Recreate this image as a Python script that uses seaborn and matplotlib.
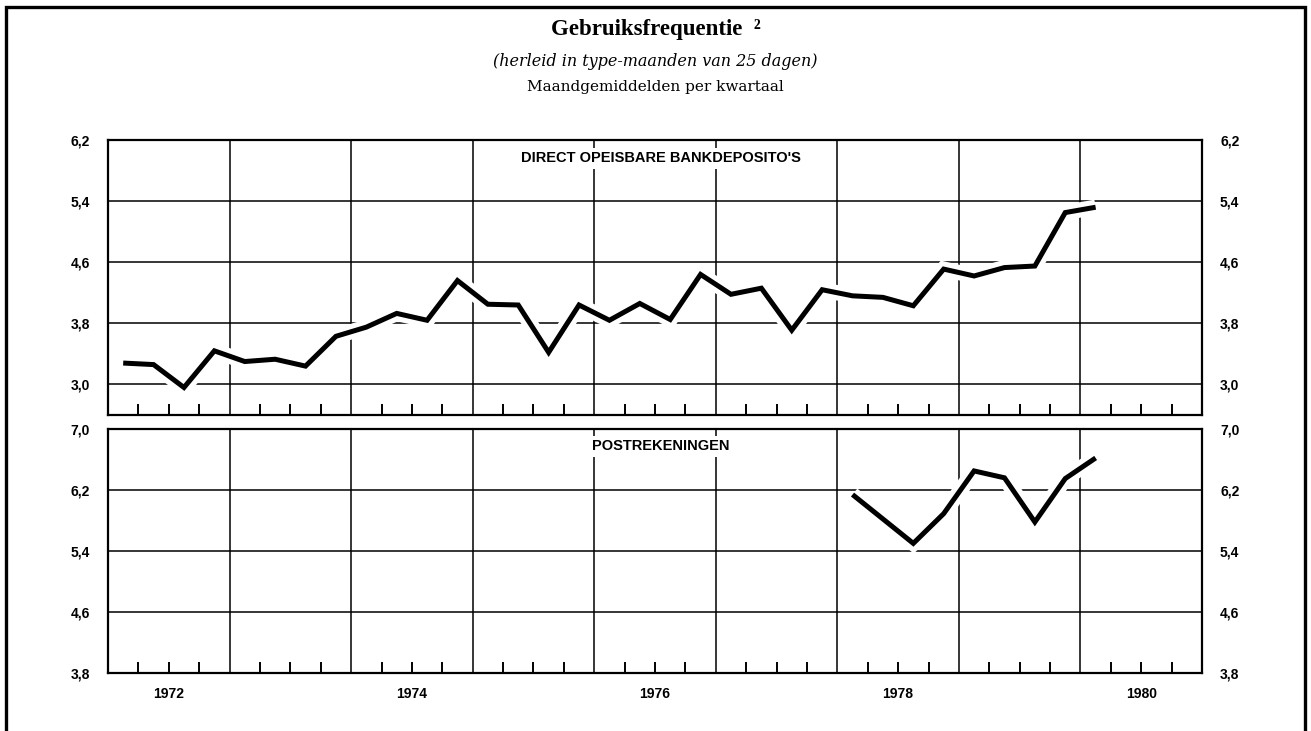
import numpy as np
import pandas as pd
import matplotlib
matplotlib.use("Agg")
import matplotlib.pyplot as plt
import seaborn as sns
from matplotlib.patches import Rectangle
from matplotlib.ticker import FixedLocator, FuncFormatter

# ---------------- data (quarterly averages) ----------------
first_year = 1972
last_year = 1980
bank_start = (1972, 1)
bank_values = [3.28, 3.26, 2.96, 3.44,
               3.30, 3.33, 3.24, 3.63,
               3.75, 3.93, 3.84, 4.36,
               4.05, 4.04, 3.42, 4.04,
               3.84, 4.06, 3.85, 4.44,
               4.18, 4.26, 3.71, 4.24,
               4.16, 4.14, 4.03, 4.51,
               4.42, 4.53, 4.55, 5.25,
               5.32]
post_start = (1978, 1)
post_values = [6.14, 5.82, 5.50, 5.89,
               6.45, 6.36, 5.78, 6.35,
               6.62]
year_labels = ["1972", "1974", "1976", "1978", "1980"]
top_yticks = [3.0, 3.8, 4.6, 5.4, 6.2]
bottom_yticks = [3.8, 4.6, 5.4, 6.2, 7.0]
top_title = "DIRECT OPEISBARE BANKDEPOSITO'S"
bottom_title = "POSTREKENINGEN"
title = "Gebruiksfrequentie  \u00b2"
subtitle = "(herleid in type-maanden van 25 dagen)"
subtitle2 = "Maandgemiddelden per kwartaal"


def quarterly_frame(start, values):
    y0, q0 = start
    xs = []
    for k in range(len(values)):
        idx = (q0 - 1) + k
        xs.append(y0 + idx // 4 + ((idx % 4) + 0.5) / 4.0)
    return pd.DataFrame({"x": xs, "value": values})


bank_df = quarterly_frame(bank_start, bank_values)
post_df = quarterly_frame(post_start, post_values)

# ---------------- style ----------------
sns.set_theme(style="white")
plt.rcParams["font.family"] = ["Liberation Sans", "DejaVu Sans"]
plt.rcParams["axes.edgecolor"] = "black"
plt.rcParams["text.color"] = "black"
plt.rcParams["xtick.color"] = "black"
plt.rcParams["ytick.color"] = "black"

W, H = 1311, 731
fig = plt.figure(figsize=(W / 100, H / 100), dpi=100)
fig.patch.set_facecolor("white")


def fx(px):
    return px / W


def fy(py):
    return 1 - py / H


left_px, right_px = 108, 1202
ax_top = fig.add_axes([fx(left_px), fy(415), fx(right_px - left_px), (415 - 140) / H])
ax_bot = fig.add_axes([fx(left_px), fy(673), fx(right_px - left_px), (673 - 429) / H])

fmt = FuncFormatter(lambda v, p: f"{v:.1f}".replace(".", ","))
quarter_marks = [y + f for y in range(first_year, last_year + 1) for f in (0.25, 0.5, 0.75)]
year_bounds = list(range(first_year + 1, last_year + 1))
label_pos = [int(s) + 0.5 for s in year_labels]

TICK_FS = 10


def style_axis(ax, yticks, ylim, panel_title, show_x, title_y):
    ax.set_facecolor("white")
    ax.set_xlim(first_year, last_year + 1)
    ax.set_ylim(*ylim)
    ax.set_yticks(yticks)
    ax.yaxis.set_major_formatter(fmt)
    ax.grid(axis="y", color="black", linewidth=1.1, zorder=0.5)
    ax.set_axisbelow(True)
    for xb in year_bounds:
        ax.axvline(xb, color="black", linewidth=1.1, zorder=0.6)
    for s in ax.spines.values():
        s.set_visible(True)
        s.set_linewidth(1.6)
        s.set_color("black")
        s.set_zorder(5)
    ax.xaxis.remove_overlapping_locs = False
    ax.xaxis.set_minor_locator(FixedLocator(quarter_marks))
    ax.xaxis.set_major_locator(FixedLocator(label_pos))
    if show_x:
        ax.set_xticklabels(year_labels)
    else:
        ax.set_xticklabels([])
    ax.tick_params(axis="x", which="minor", direction="in", length=8, width=1.4,
                   color="black", bottom=True, top=False)
    ax.tick_params(axis="x", which="major", length=0, pad=10, labelsize=TICK_FS,
                   labelcolor="black")
    ax.tick_params(axis="y", which="both", left=False, right=False, length=0,
                   labelleft=True, labelright=True, pad=13, labelsize=TICK_FS,
                   labelcolor="black")
    for lab in ax.get_xticklabels():
        lab.set_fontweight("bold")
    for t in ax.yaxis.get_major_ticks():
        t.label1.set_fontweight("bold")
        t.label2.set_fontweight("bold")
    ax.set_xlabel("")
    ax.set_ylabel("")
    ax.text(0.505, title_y, panel_title, transform=ax.transAxes,
            ha="center", va="center", fontsize=10.5, fontweight="bold", color="black",
            zorder=4, bbox=dict(facecolor="white", edgecolor="none", pad=2.5))


def draw_series(ax, df):
    sns.lineplot(data=df, x="x", y="value", ax=ax, color="white", linewidth=11,
                 sort=False, legend=False, zorder=2)
    sns.lineplot(data=df, x="x", y="value", ax=ax, color="black", linewidth=3.6,
                 sort=False, legend=False, zorder=3)
    for ln in ax.get_lines()[-2:]:
        ln.set_solid_joinstyle("miter")
        ln.set_solid_capstyle("butt")


draw_series(ax_top, bank_df)
draw_series(ax_bot, post_df)
style_axis(ax_top, top_yticks, (2.6, 6.2), top_title, False, 1 - 18 / 275)
style_axis(ax_bot, bottom_yticks, (3.8, 7.0), bottom_title, True, 1 - 17 / 244)

# ---------------- titles ----------------
fig.text(0.5, fy(30), title, ha="center", va="center", fontsize=16.5,
         fontweight="bold", family=["Liberation Serif", "DejaVu Serif"], color="black")
fig.text(0.5, fy(61), subtitle, ha="center", va="center", fontsize=11.5,
         style="italic", family=["DejaVu Serif"], color="black")
fig.text(0.5, fy(87), subtitle2, ha="center", va="center", fontsize=11,
         family=["DejaVu Serif"], color="black")

# ---------------- outer frame ----------------
frame = Rectangle((fx(6), -0.1), fx(1305 - 6), fy(7) + 0.1, transform=fig.transFigure,
                  fill=False, edgecolor="black", linewidth=2.4, clip_on=False)
fig.add_artist(frame)

fig.savefig("out.png", dpi=100, facecolor="white")
